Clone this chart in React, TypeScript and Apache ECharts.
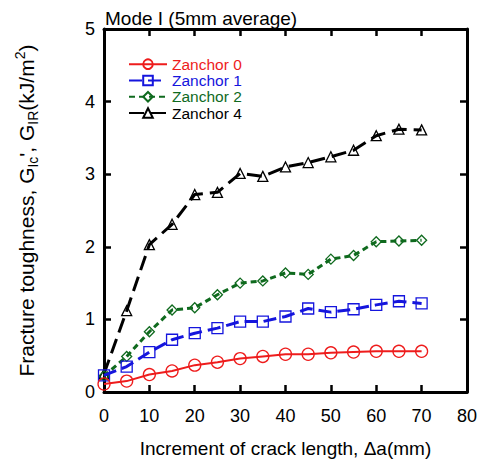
import React, { useEffect, useRef } from "react";
import * as echarts from "echarts";

const xValues = [0, 5, 10, 15, 20, 25, 30, 35, 40, 45, 50, 55, 60, 65, 70];
const zanchor0 = [0.11, 0.15, 0.24, 0.29, 0.37, 0.41, 0.46, 0.49, 0.52, 0.52, 0.54, 0.55, 0.56, 0.56, 0.56];
const zanchor1 = [0.23, 0.35, 0.55, 0.72, 0.81, 0.88, 0.97, 0.97, 1.04, 1.15, 1.1, 1.14, 1.2, 1.25, 1.22];
const zanchor2 = [0.22, 0.49, 0.83, 1.13, 1.16, 1.34, 1.5, 1.53, 1.64, 1.62, 1.83, 1.88, 2.07, 2.08, 2.09];
const zanchor4 = [0.25, 1.12, 2.03, 2.31, 2.72, 2.75, 3.01, 2.97, 3.1, 3.16, 3.24, 3.33, 3.53, 3.62, 3.61];
const seriesNames = ["Zanchor 0", "Zanchor 1", "Zanchor 2", "Zanchor 4"];
const xTicks = [0, 10, 20, 30, 40, 50, 60, 70, 80];
const yTicks = [0, 1, 2, 3, 4, 5];

const FONT = "Liberation Sans, Arial, sans-serif";

export default function App() {
  const ref = useRef<HTMLDivElement>(null);
  useEffect(() => {
    if (!ref.current) return;
    document.body.style.margin = "0";
    const chart = echarts.init(ref.current, null, { renderer: "svg" });
    const pair = (vals: number[]) => xValues.map((x, i) => [x, vals[i]]);
    const colors = ["#ee1c1c", "#1515dd", "#0f6a1e", "#000000"];
    const symbols = ["circle", "rect", "diamond", "triangle"];
    const symbolSizes = [12, 11, 10, 10];
    const lineTypes: any[] = ["solid", [13, 6], [6, 4], [15, 7]];
    const lineWidths = [2, 3, 3, 3];
    const datas = [zanchor0, zanchor1, zanchor2, zanchor4];

    const axisCommon = {
      min: 0,
      axisLine: { show: true, onZero: false, lineStyle: { color: "#000", width: 3 } },
      axisTick: { show: true, inside: true, length: 7, lineStyle: { color: "#000", width: 2.5 } },
      splitLine: { show: false },
    };

    chart.setOption({
      animation: false,
      title: {
        text: "Mode I (5mm average)",
        left: 100,
        top: 4,
        textStyle: { fontFamily: FONT, fontSize: 19, fontWeight: "normal", color: "#000" },
      },
      grid: { left: 104, right: 11, top: 29, bottom: 69 },
      legend: {
        orient: "vertical",
        left: 128,
        top: 56,
        padding: 0,
        itemWidth: 38,
        itemHeight: 12,
        itemGap: 0,
        textStyle: { fontFamily: FONT, fontSize: 15.5, lineHeight: 16.3 },
        data: seriesNames.map((n, i) => ({ name: n, textStyle: { color: colors[i] } })),
      },
      xAxis: [
        {
          ...axisCommon,
          type: "value",
          position: "bottom",
          max: 80,
          interval: 10,
          axisLabel: {
            margin: 15,
            fontFamily: FONT,
            fontSize: 18,
            color: "#000",
            formatter: (v: number) => (xTicks.includes(v) ? String(v) : ""),
          },
          name: "Increment of crack length, \u0394a(mm)",
          nameLocation: "middle",
          nameGap: 47,
          nameTextStyle: { fontFamily: FONT, fontSize: 19, color: "#000" },
        },
        {
          ...axisCommon,
          type: "value",
          position: "top",
          max: 80,
          interval: 10,
          axisLabel: { show: false },
        },
      ],
      yAxis: [
        {
          ...axisCommon,
          type: "value",
          position: "left",
          max: 5,
          interval: 1,
          axisLabel: {
            margin: 9,
            fontFamily: FONT,
            fontSize: 18,
            color: "#000",
            formatter: (v: number) => (yTicks.includes(v) ? String(v) : ""),
          },
          name: "Fracture toughness, G{sub|Ic}', G{sub|IR}(kJ/m{sup|2})",
          nameLocation: "middle",
          nameGap: 64,
          nameTextStyle: {
            fontFamily: FONT,
            fontSize: 21,
            lineHeight: 27,
            color: "#000",
            rich: {
              sub: { fontFamily: FONT, fontSize: 14, lineHeight: 14, verticalAlign: "bottom", color: "#000" },
              sup: { fontFamily: FONT, fontSize: 14, lineHeight: 14, verticalAlign: "top", color: "#000" },
            },
          },
        },
        {
          ...axisCommon,
          type: "value",
          position: "right",
          max: 5,
          interval: 1,
          axisLabel: { show: false },
        },
      ],
      series: datas.map((d, i) => ({
        name: seriesNames[i],
        type: "line",
        xAxisIndex: 0,
        yAxisIndex: 0,
        data: pair(d),
        clip: false,
        symbol: symbols[i],
        symbolSize: symbolSizes[i],
        lineStyle: { color: colors[i], width: lineWidths[i], type: lineTypes[i] },
        itemStyle: { color: "rgba(255,255,255,0)", borderColor: colors[i], borderWidth: 1.3 },
        z: 10 - i,
      })),
    });
    return () => chart.dispose();
  }, []);
  return <div ref={ref} style={{ width: 480, height: 463 }} />;
}
